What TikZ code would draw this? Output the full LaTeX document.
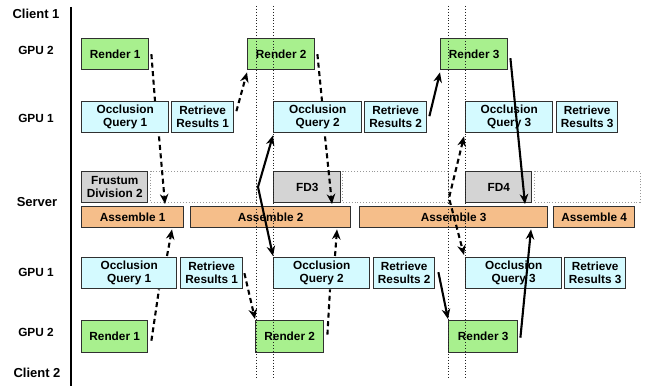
\documentclass[tikz,border=0pt]{standalone}
\usepackage{fontspec}
\setmainfont{Liberation Sans}
\usetikzlibrary{arrows.meta,calc}

\definecolor{rendergreen}{HTML}{A8F08E}
\definecolor{querycyan}{HTML}{D4FAFF}
\definecolor{assembleorange}{HTML}{F5BE8A}
\definecolor{fdgray}{HTML}{D4D4D4}
\definecolor{edgegray}{HTML}{303030}
\definecolor{guidegray}{HTML}{222222}

\tikzset{
  box/.style={draw=edgegray, line width=1.4pt, anchor=north west, inner sep=0pt,
    align=center, font=\fontsize{11.8}{13}\selectfont\bfseries, text=black},
  renderbox/.style={box, fill=rendergreen, minimum height=31pt},
  querybox/.style={box, fill=querycyan, minimum height=31pt},
  fdbox/.style={box, fill=fdgray, minimum height=31pt},
  asmbox/.style={box, fill=assembleorange, minimum height=21pt},
  slotbox/.style={draw=gray!80, dotted, line width=0.9pt},
  guide/.style={draw=guidegray, dotted, line width=0.9pt},
  rowlabel/.style={font=\fontsize{11.8}{13}\selectfont\bfseries},
  endlabel/.style={font=\fontsize{13}{15}\selectfont\bfseries},
  flow/.style={line width=2.1pt, -{Stealth[length=10pt,width=8.5pt]}},
  flowplain/.style={line width=2.1pt},
  dflow/.style={flow, dash pattern=on 5pt off 3.5pt},
  dplain/.style={flowplain, dash pattern=on 5pt off 3.5pt},
  dual/.style={line width=2.1pt, {Stealth[length=10pt,width=8.5pt]}-{Stealth[length=10pt,width=8.5pt]}},
}

\begin{document}
\begin{tikzpicture}[x=1pt, y=-1pt]
\useasboundingbox[fill=white] (0,0) rectangle (654,390);

% row labels
\node[endlabel] (lc1) at (36,14) {Client 1};
\node[rowlabel] (lg2t) at (36,50) {GPU 2};
\node[rowlabel] (lg1t) at (36,118) {GPU 1};
\node[endlabel] (lsrv) at (37,202) {Server};
\node[rowlabel] (lg1b) at (36,272) {GPU 1};
\node[rowlabel] (lg2b) at (36,332) {GPU 2};
\node[endlabel] (lc2) at (37,373) {Client 2};

% time axis
\draw[line width=1.8pt, black] (71,7) -- (71,386);

% client 1 side: GPU 2
\node[renderbox, minimum width=67pt] (r1t) at (81,38) {Render 1};
\node[renderbox, minimum width=67pt] (r2t) at (247,38) {Render 2};
\node[renderbox, minimum width=67pt] (r3t) at (440,38) {Render 3};

% client 1 side: GPU 1
\node[querybox, minimum width=87pt] (q1t) at (81,101) {Occlusion\\Query 1};
\node[querybox, minimum width=62pt] (rr1t) at (171,101) {Retrieve\\Results 1};
\node[querybox, minimum width=88pt] (q2t) at (273,101) {Occlusion\\Query 2};
\node[querybox, minimum width=62pt] (rr2t) at (364,101) {Retrieve\\Results 2};
\node[querybox, minimum width=87pt] (q3t) at (465,101) {Occlusion\\Query 3};
\node[querybox, minimum width=61pt] (rr3t) at (556,101) {Retrieve\\Results 3};

% server: frustum division slots
\node[fdbox, minimum width=66pt] (fd2) at (81,171) {Frustum\\Division 2};
\draw[slotbox] (150,171) rectangle (256,202);
\node[fdbox, minimum width=67pt] (fd3) at (273,171) {FD3};
\draw[slotbox] (342,171) rectangle (448,202);
\node[fdbox, minimum width=66pt] (fd4) at (465,171) {FD4};
\draw[slotbox] (534,171) rectangle (640,202);

% server: assembly
\node[asmbox, minimum width=102pt] (a1) at (81,206) {Assemble 1};
\node[asmbox, minimum width=160pt] (a2) at (190,206) {Assemble 2};
\node[asmbox, minimum width=188pt] (a3) at (359,206) {Assemble 3};
\node[asmbox, minimum width=81pt] (a4) at (553,206) {Assemble 4};

% client 2 side: GPU 1
\node[querybox, minimum width=95pt] (q1b) at (81,257) {Occlusion\\Query 1};
\node[querybox, minimum width=62pt] (rr1b) at (180,257) {Retrieve\\Results 1};
\node[querybox, minimum width=96pt] (q2b) at (273,257) {Occlusion\\Query 2};
\node[querybox, minimum width=61pt] (rr2b) at (373,257) {Retrieve\\Results 2};
\node[querybox, minimum width=96pt] (q3b) at (465,257) {Occlusion\\Query 3};
\node[querybox, minimum width=61pt] (rr3b) at (564,257) {Retrieve\\Results 3};

% client 2 side: GPU 2
\node[renderbox, minimum width=66pt, minimum height=32pt] (r1b) at (81,320) {Render 1};
\node[renderbox, minimum width=68pt, minimum height=32pt] (r2b) at (255,320) {Render 2};
\node[renderbox, minimum width=69pt, minimum height=32pt] (r3b) at (448,320) {Render 3};

% frame boundaries
\draw[guide] (256,6) -- (256,378);
\draw[guide] (273,6) -- (273,378);
\draw[guide] (448,6) -- (448,378);
\draw[guide] (465,6) -- (465,378);

% kink points of the two-way links
\coordinate (k1) at (258,187);
\coordinate (k2) at (449,198);

% client 1 dependencies
\draw[dplain] ($(r1t.east)+(2,0)$) -- ($(q1t.north west)+(74,0)$);
\draw[dflow] ($(q1t.south west)+(78,3)$) -- ($(a1.north west)+(84,-2)$);
\draw[dflow] ($(rr1t.east)+(2,-6)$) -- ($(r2t.south west)+(0,2)$);
\draw[dplain] ($(r2t.east)+(2,0)$) -- ($(q2t.north west)+(49,0)$);
\draw[dflow] ($(q2t.south west)+(52,3)$) -- ($(a2.north west)+(142,-2)$);
\draw[flow] ($(rr2t.east)+(2,-1)$) -- ($(r3t.south west)+(0,2)$);
\draw[flow] ($(r3t.east)+(2,4)$) -- ($(a3.north west)+(166,-2)$);

% links shared by both clients
\draw[dual] ($(q2t.south west)+(0,2)$) -- (k1) -- ($(q2b.north west)+(0,-1)$);
\draw[dual, dash pattern=on 5pt off 3.5pt] ($(q3t.south west)+(-1,3)$) -- (k2) -- ($(q3b.north west)+(-1,-2)$);

% client 2 dependencies
\draw[dplain] ($(r1b.east)+(3,4)$) -- ($(q1b.south west)+(78,0)$);
\draw[dflow] ($(q1b.north west)+(86,-1)$) -- ($(a1.south west)+(91,1)$);
\draw[dflow] ($(rr1b.east)+(1,0)$) -- ($(r2b.north west)+(0,-1)$);
\draw[dplain] ($(r2b.east)+(3,-2)$) -- ($(q2b.south west)+(57,0)$);
\draw[dflow] ($(q2b.north west)+(62,-1)$) -- ($(a2.south west)+(147,1)$);
\draw[flow] ($(rr2b.east)+(3,-1)$) -- ($(r3b.north west)+(0,-1)$);
\draw[flow] ($(r3b.east)+(2,1)$) -- ($(a3.south west)+(172,1)$);
\end{tikzpicture}
\end{document}
